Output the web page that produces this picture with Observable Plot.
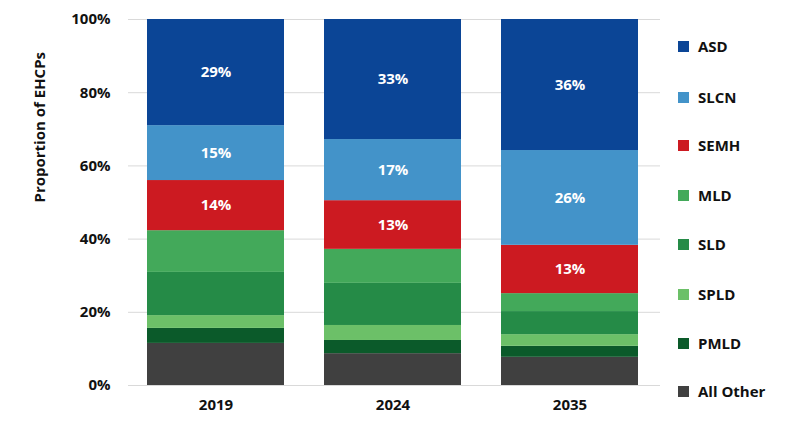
<!DOCTYPE html>
<html><head><meta charset="utf-8">
<script src="https://cdn.jsdelivr.net/npm/d3@7"></script>
<script src="https://cdn.jsdelivr.net/npm/@observablehq/plot@0.6"></script>
<style>
body{margin:0;background:#fff;font-family:"Open Sans",sans-serif;}
#wrap{position:relative;width:800px;height:432px;}
#legend{position:absolute;left:678px;top:0;font-weight:bold;font-size:15px;color:#111;}
.li{position:absolute;left:0;white-space:nowrap;display:flex;align-items:center;}
.sw{width:11px;height:11px;margin-right:9px;}
</style></head><body>
<div id="wrap"><div id="chart"></div><div id="legend"></div></div>
<script>
const years = ["2019","2024","2035"];
const categories = ["All Other","PMLD","SPLD","SLD","MLD","SEMH","SLCN","ASD"];
const colors = ["#404040","#0b5a2a","#6cc068","#258b47","#43a95a","#cc1a21","#4393c9","#0b4596"];
const values = {
  "2019": [11.5,4.1,3.5,11.8,11.4,13.7,15.0,29.0],
  "2024": [8.7,3.6,4.1,11.5,9.3,13.3,16.7,32.8],
  "2035": [7.7,3.0,3.2,6.3,4.9,13.2,25.9,35.8]
};
const labelled = ["SEMH","SLCN","ASD"];
const data = [];
for (const y of years) categories.forEach((c,i)=>data.push({year:y,cat:c,value:values[y][i]/100}));
const stackOpts = {x:"year", y:"value", z:"cat", order:categories};
const chart = Plot.plot({
  width:800, height:432, marginLeft:128, marginRight:140, marginTop:19, marginBottom:47,
  style:{fontFamily:"Open Sans, sans-serif", fontSize:"15px", fontWeight:"bold", color:"#111"},
  x:{domain:years, padding:0.228, range:[106,679]},
  y:{domain:[0,1]},
  color:{domain:categories, range:colors},
  marks:[
    Plot.gridY([0.2,0.4,0.6,0.8,1],{stroke:"#d9d9d9", strokeOpacity:1}),
    Plot.barY(data, Plot.stackY({...stackOpts, fill:"cat"})),
    Plot.ruleY([0],{stroke:"#d9d9d9"}),
    Plot.text(data, Plot.stackY({...stackOpts, text:d=>labelled.includes(d.cat)?Math.round(d.value*100)+"%":"", fill:"white", fontSize:15, fontWeight:"bold"})),
    Plot.axisX({label:null, tickSize:0, tickPadding:14, fontSize:15, fontWeight:"bold"}),
    Plot.axisY({ticks:[0,0.2,0.4,0.6,0.8,1], tickFormat:d3.format(".0%"), tickSize:0, tickPadding:18, fontSize:15, fontWeight:"bold", label:null}),
    Plot.text(["Proportion of EHCPs"],{frameAnchor:"left", dx:-88, rotate:-90, fontSize:15, fontWeight:"bold", fill:"#111"})
  ]
});
document.getElementById("chart").appendChild(chart);
const leg = document.getElementById("legend");
const rows = ["ASD","SLCN","SEMH","MLD","SLD","SPLD","PMLD","All Other"];
const ys = [47,98,146,196,245,295,344,392];
rows.forEach((r,i)=>{
  const d=document.createElement("div");d.className="li";d.style.top=(ys[i]-11)+"px";
  d.innerHTML=`<span class="sw" style="background:${colors[categories.indexOf(r)]}"></span>${r}`;
  leg.appendChild(d);
});
</script></body></html>
